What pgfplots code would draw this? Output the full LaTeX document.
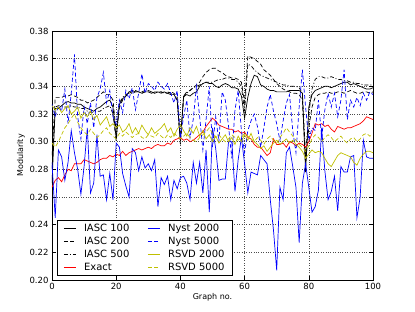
\documentclass[border=0pt]{standalone}
\usepackage{pgfplots}
\pgfplotsset{compat=1.18}
\usepackage{pgfplotstable}
\usepackage{fontspec}
\setmainfont{DejaVu Sans}
\definecolor{mblue}{RGB}{0,0,255}
\definecolor{mred}{RGB}{255,0,0}
\definecolor{myel}{RGB}{191,191,0}
\pgfplotstableread{
x i100 i200 i500 ex n2 n5 r2 r5
0 0.270 0.290 0.280 0.267 0.285 0.327 0.326 0.299
1 0.324 0.332 0.325 0.272 0.245 0.318 0.323 0.296
2 0.324 0.332 0.326 0.274 0.294 0.326 0.325 0.300
3 0.326 0.332 0.326 0.271 0.289 0.322 0.321 0.305
4 0.328 0.333 0.325 0.276 0.272 0.338 0.324 0.310
5 0.329 0.333 0.325 0.280 0.285 0.313 0.326 0.313
6 0.328 0.334 0.326 0.279 0.308 0.335 0.320 0.317
7 0.328 0.333 0.325 0.284 0.292 0.363 0.322 0.320
8 0.327 0.332 0.325 0.284 0.280 0.318 0.325 0.314
9 0.327 0.330 0.324 0.284 0.262 0.302 0.317 0.310
10 0.325 0.330 0.324 0.287 0.282 0.325 0.321 0.307
11 0.324 0.328 0.322 0.286 0.310 0.313 0.318 0.305
12 0.323 0.329 0.321 0.285 0.263 0.328 0.322 0.309
13 0.322 0.330 0.321 0.284 0.270 0.310 0.316 0.306
14 0.324 0.332 0.322 0.285 0.305 0.332 0.319 0.303
15 0.325 0.334 0.322 0.287 0.275 0.338 0.312 0.305
16 0.327 0.336 0.324 0.288 0.276 0.350 0.315 0.308
17 0.329 0.334 0.325 0.288 0.258 0.328 0.318 0.310
18 0.330 0.334 0.326 0.290 0.277 0.337 0.311 0.306
19 0.325 0.330 0.320 0.289 0.258 0.318 0.313 0.304
20 0.302 0.307 0.300 0.291 0.299 0.313 0.310 0.302
21 0.327 0.325 0.328 0.290 0.296 0.330 0.312 0.306
22 0.331 0.330 0.332 0.293 0.277 0.321 0.307 0.304
23 0.333 0.333 0.334 0.290 0.268 0.337 0.309 0.307
24 0.336 0.335 0.335 0.292 0.260 0.331 0.313 0.305
25 0.337 0.336 0.335 0.293 0.295 0.339 0.306 0.303
26 0.336 0.337 0.336 0.294 0.292 0.323 0.310 0.305
27 0.336 0.336 0.336 0.295 0.279 0.335 0.306 0.306
28 0.335 0.336 0.335 0.294 0.289 0.349 0.312 0.303
29 0.336 0.337 0.336 0.295 0.281 0.335 0.308 0.302
30 0.336 0.337 0.336 0.296 0.284 0.342 0.305 0.305
31 0.335 0.336 0.336 0.295 0.279 0.340 0.310 0.304
32 0.336 0.335 0.335 0.297 0.287 0.337 0.306 0.303
33 0.336 0.336 0.336 0.298 0.253 0.343 0.308 0.306
34 0.335 0.336 0.336 0.297 0.274 0.340 0.310 0.304
35 0.336 0.335 0.335 0.297 0.269 0.338 0.313 0.302
36 0.335 0.335 0.336 0.299 0.275 0.342 0.307 0.305
37 0.334 0.336 0.335 0.298 0.258 0.335 0.310 0.303
38 0.334 0.335 0.334 0.301 0.272 0.328 0.304 0.306
39 0.330 0.332 0.330 0.302 0.266 0.337 0.309 0.304
40 0.301 0.298 0.300 0.303 0.274 0.303 0.312 0.302
41 0.333 0.333 0.332 0.301 0.275 0.318 0.308 0.304
42 0.334 0.336 0.335 0.302 0.270 0.330 0.304 0.306
43 0.333 0.337 0.337 0.300 0.258 0.303 0.310 0.303
44 0.335 0.339 0.339 0.301 0.285 0.316 0.306 0.301
45 0.336 0.341 0.340 0.303 0.270 0.340 0.311 0.300
46 0.340 0.343 0.341 0.305 0.285 0.318 0.304 0.303
47 0.342 0.347 0.342 0.307 0.263 0.294 0.308 0.305
48 0.343 0.350 0.343 0.311 0.294 0.316 0.302 0.307
49 0.342 0.352 0.343 0.314 0.249 0.340 0.305 0.310
50 0.342 0.353 0.343 0.317 0.310 0.296 0.300 0.306
51 0.340 0.353 0.344 0.315 0.295 0.318 0.304 0.303
52 0.339 0.351 0.345 0.312 0.272 0.300 0.299 0.305
53 0.341 0.350 0.345 0.311 0.273 0.336 0.302 0.302
54 0.342 0.348 0.346 0.310 0.273 0.330 0.305 0.300
55 0.341 0.347 0.346 0.309 0.300 0.311 0.300 0.302
56 0.339 0.346 0.345 0.309 0.300 0.288 0.303 0.305
57 0.339 0.346 0.345 0.307 0.264 0.323 0.298 0.303
58 0.338 0.345 0.343 0.308 0.287 0.337 0.304 0.301
59 0.333 0.343 0.340 0.306 0.303 0.308 0.300 0.303
60 0.317 0.328 0.322 0.307 0.284 0.292 0.305 0.306
61 0.332 0.362 0.356 0.303 0.263 0.308 0.301 0.304
62 0.342 0.361 0.355 0.302 0.278 0.315 0.306 0.302
63 0.348 0.360 0.352 0.298 0.277 0.320 0.300 0.300
64 0.347 0.358 0.350 0.296 0.276 0.311 0.298 0.303
65 0.341 0.356 0.348 0.296 0.290 0.296 0.295 0.301
66 0.340 0.352 0.347 0.293 0.287 0.310 0.297 0.298
67 0.338 0.350 0.346 0.290 0.284 0.325 0.293 0.302
68 0.337 0.348 0.345 0.292 0.258 0.334 0.296 0.304
69 0.337 0.345 0.344 0.302 0.236 0.322 0.299 0.301
70 0.336 0.342 0.343 0.298 0.207 0.313 0.301 0.299
71 0.336 0.340 0.342 0.298 0.267 0.301 0.298 0.303
72 0.336 0.338 0.341 0.299 0.258 0.315 0.300 0.306
73 0.336 0.337 0.341 0.296 0.292 0.328 0.302 0.310
74 0.337 0.336 0.340 0.300 0.296 0.334 0.299 0.307
75 0.337 0.335 0.340 0.299 0.282 0.308 0.301 0.304
76 0.337 0.335 0.340 0.297 0.267 0.292 0.298 0.301
77 0.337 0.334 0.339 0.299 0.227 0.325 0.296 0.298
78 0.335 0.330 0.335 0.298 0.270 0.352 0.293 0.296
79 0.278 0.285 0.290 0.296 0.284 0.325 0.288 0.293
80 0.325 0.310 0.320 0.300 0.267 0.301 0.291 0.297
81 0.334 0.325 0.338 0.306 0.249 0.310 0.294 0.302
82 0.337 0.332 0.345 0.313 0.253 0.308 0.292 0.305
83 0.338 0.334 0.347 0.312 0.265 0.330 0.293 0.303
84 0.339 0.335 0.347 0.313 0.310 0.303 0.292 0.300
85 0.340 0.335 0.346 0.311 0.279 0.323 0.288 0.303
86 0.340 0.336 0.346 0.312 0.258 0.335 0.284 0.305
87 0.339 0.335 0.347 0.309 0.264 0.325 0.282 0.303
88 0.340 0.335 0.346 0.307 0.275 0.335 0.286 0.300
89 0.341 0.336 0.345 0.311 0.250 0.318 0.290 0.302
90 0.342 0.336 0.345 0.310 0.282 0.330 0.292 0.304
91 0.343 0.335 0.344 0.309 0.278 0.352 0.291 0.301
92 0.343 0.336 0.344 0.310 0.278 0.316 0.290 0.299
93 0.341 0.337 0.343 0.310 0.289 0.330 0.289 0.302
94 0.342 0.336 0.343 0.311 0.290 0.325 0.285 0.303
95 0.341 0.335 0.342 0.312 0.245 0.332 0.283 0.300
96 0.340 0.335 0.342 0.313 0.260 0.326 0.288 0.302
97 0.339 0.336 0.341 0.315 0.301 0.335 0.291 0.305
98 0.338 0.336 0.341 0.318 0.289 0.330 0.293 0.306
99 0.338 0.335 0.341 0.317 0.288 0.336 0.293 0.304
100 0.339 0.336 0.341 0.316 0.288 0.334 0.292 0.305
}\data
\begin{document}
\begin{tikzpicture}
\useasboundingbox (-52pt,-32pt) rectangle (363pt,280pt);
\begin{axis}[
  at={(0,0)}, anchor=south west,
  scale only axis, width=321pt, height=249pt,
  xmin=0, xmax=100, ymin=0.2, ymax=0.38,
  xtick={0,20,40,60,80,100},
  ytick={0.20,0.22,0.24,0.26,0.28,0.30,0.32,0.34,0.36,0.38},
  yticklabel style={/pgf/number format/.cd, fixed, fixed zerofill, precision=2},
  /pgf/number format/assume math mode=true,
  tick label style={font=\fontsize{8.5}{10}\selectfont, black},
  label style={font=\fontsize{8}{10}\selectfont},
  xlabel={Graph no.}, ylabel={Modularity},
  xlabel style={yshift=3pt},
  ylabel style={yshift=-2pt},
  tick align=inside, xtick pos=both, ytick pos=both,
  major tick length=4pt,
  grid=major, grid style={dotted, black!70, line width=0.5pt},
  axis line style={line width=0.8pt},
  every tick/.style={black, line width=0.5pt},
  legend columns=4, transpose legend,
  legend cell align=left,
  legend style={at={(0,0)}, anchor=south west, xshift=5pt, yshift=4pt,
    font=\fontsize{10}{12}\selectfont, draw=black, line width=0.8pt, fill=white,
    /tikz/every odd column/.append style={column sep=6pt},
    /tikz/every even column/.append style={column sep=16pt},
    row sep=0pt, inner xsep=6pt, inner ysep=2pt},
  legend image code/.code={\draw[#1, line width=0.7pt] (0cm,0cm) -- (0.42cm,0cm);},
  every axis plot/.append style={line width=0.7pt},
]
\addplot[black] table[x=x,y=i100] {\data};
\addlegendentry{IASC 100}
\addplot[black, dash pattern=on 4pt off 2.5pt] table[x=x,y=i200] {\data};
\addlegendentry{IASC 200}
\addplot[black, dash pattern=on 4pt off 2pt on 1pt off 2pt] table[x=x,y=i500] {\data};
\addlegendentry{IASC 500}
\addplot[mred] table[x=x,y=ex] {\data};
\addlegendentry{Exact}
\addplot[mblue] table[x=x,y=n2] {\data};
\addlegendentry{Nyst 2000}
\addplot[mblue, dash pattern=on 4pt off 2.5pt] table[x=x,y=n5] {\data};
\addlegendentry{Nyst 5000}
\addplot[myel] table[x=x,y=r2] {\data};
\addlegendentry{RSVD 2000}
\addplot[myel, dash pattern=on 4pt off 2.5pt] table[x=x,y=r5] {\data};
\addlegendentry{RSVD 5000}
\end{axis}
\end{tikzpicture}
\end{document}
